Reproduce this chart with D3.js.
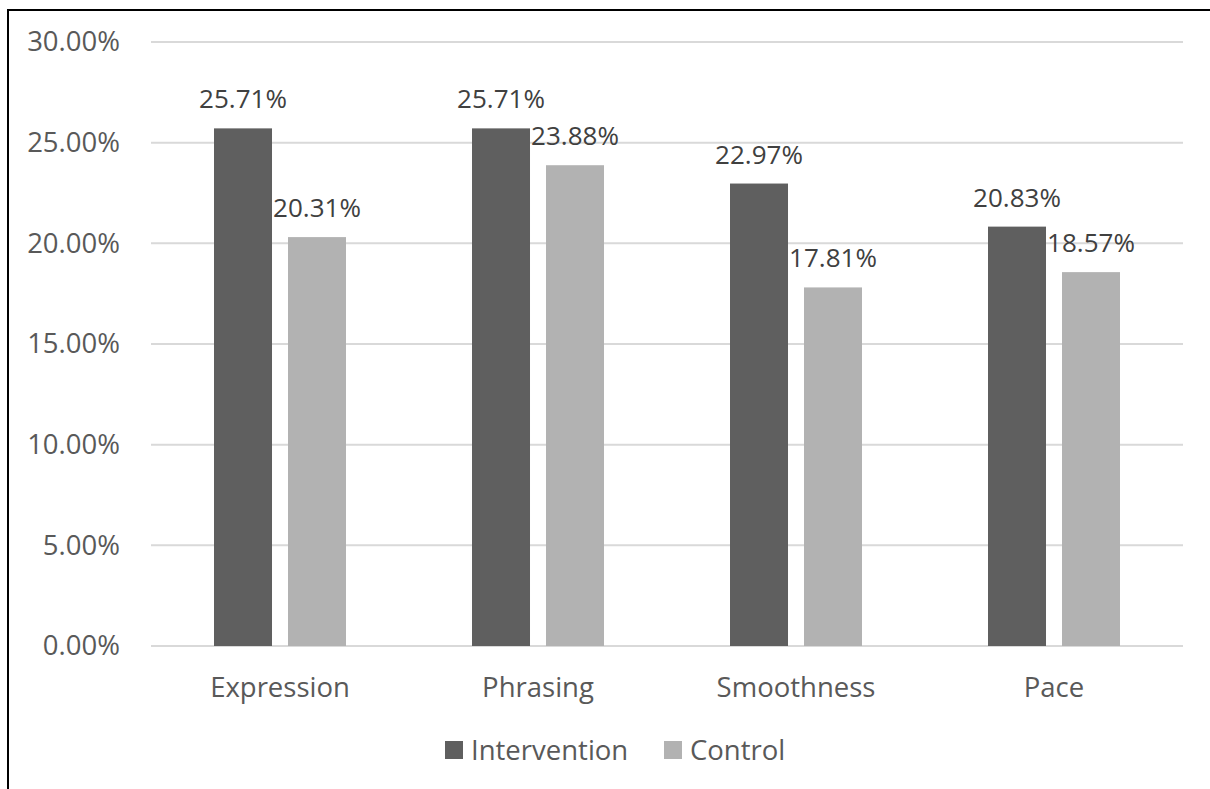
<!DOCTYPE html>
<html>
<head>
<meta charset="utf-8">
<script src="https://cdn.jsdelivr.net/npm/d3@7"></script>
<style>
  body { margin: 0; background: #fff; overflow: hidden; }
  svg { display: block; font-family: "Open Sans", "Noto Sans", sans-serif; }
</style>
</head>
<body>
<div id="chart"></div>
<script>
// data
const categories = ["Expression", "Phrasing", "Smoothness", "Pace"];
const seriesNames = ["Intervention", "Control"];
const intervention = [25.71, 25.71, 22.97, 20.83];
const control = [20.31, 23.88, 17.81, 18.57];
const yTicks = [0, 5, 10, 15, 20, 25, 30];

const width = 1210;
const height = 789;
const plot = { left: 151, right: 1183, top: 42, bottom: 646 };

const colors = { Intervention: "#5f5f5f", Control: "#b2b2b2" };

const svg = d3.select("#chart")
  .append("svg")
  .attr("width", width)
  .attr("height", height);

// outer frame, only the left and top edges are in the picture
svg.append("path")
  .attr("d", `M8,${height} L8,10 L${width},10`)
  .attr("fill", "none")
  .attr("stroke", "#000")
  .attr("stroke-width", 2);

const x = d3.scaleBand()
  .domain(categories)
  .range([plot.left, plot.right])
  .padding(0);

// bar positions inside each category
const xSub = d3.scaleBand()
  .domain(seriesNames)
  .range([-66, 66])
  .paddingInner(0.216)
  .paddingOuter(0);

const y = d3.scaleLinear()
  .domain([0, 30])
  .range([plot.bottom, plot.top]);

// gridlines
svg.append("g")
  .selectAll("line")
  .data(yTicks)
  .join("line")
  .attr("x1", plot.left)
  .attr("x2", plot.right)
  .attr("y1", (d) => y(d))
  .attr("y2", (d) => y(d))
  .attr("stroke", "#d9d9d9")
  .attr("stroke-width", 2);

// y axis labels
const yAxis = svg.append("g")
  .attr("transform", `translate(${plot.left},0)`)
  .call(d3.axisLeft(y).tickValues(yTicks).tickFormat((d) => d.toFixed(2) + "%").tickSize(0).tickPadding(31));
yAxis.select(".domain").remove();
yAxis.selectAll("text")
  .attr("fill", "#595959")
  .style("font-size", "27.5px")
  .style("font-family", "'Open Sans', 'Noto Sans', sans-serif");

// bars
const rows = categories.map((c, i) => ({
  name: c,
  values: [
    { key: "Intervention", value: intervention[i] },
    { key: "Control", value: control[i] },
  ],
}));

const groups = svg.append("g")
  .selectAll("g")
  .data(rows)
  .join("g")
  .attr("transform", (d) => `translate(${x(d.name) + x.bandwidth() / 2},0)`);

groups.selectAll("rect")
  .data((d) => d.values)
  .join("rect")
  .attr("x", (d) => xSub(d.key))
  .attr("y", (d) => y(d.value))
  .attr("width", xSub.bandwidth())
  .attr("height", (d) => y(0) - y(d.value))
  .attr("fill", (d) => colors[d.key]);

groups.selectAll("text")
  .data((d) => d.values)
  .join("text")
  .attr("x", (d) => xSub(d.key) + xSub.bandwidth() / 2)
  .attr("y", (d) => y(d.value) - 20)
  .attr("text-anchor", "middle")
  .attr("fill", "#404040")
  .style("font-size", "26px")
  .text((d) => d.value.toFixed(2) + "%");

// x axis labels
const xAxis = svg.append("g")
  .attr("transform", `translate(0,${plot.bottom})`)
  .call(d3.axisBottom(x).tickSize(0).tickPadding(31));
xAxis.select(".domain").remove();
xAxis.selectAll("text")
  .attr("fill", "#595959")
  .style("font-size", "27.5px")
  .style("font-family", "'Open Sans', 'Noto Sans', sans-serif");

// legend
const legendX = [445, 664];
const legend = svg.append("g")
  .selectAll("g")
  .data(seriesNames)
  .join("g")
  .attr("transform", (d, i) => `translate(${legendX[i]},741)`);
legend.append("rect")
  .attr("width", 18)
  .attr("height", 18)
  .attr("fill", (d) => colors[d]);
legend.append("text")
  .attr("x", 26)
  .attr("y", 19)
  .attr("fill", "#595959")
  .style("font-size", "27.5px")
  .text((d) => d);
</script>
</body>
</html>
